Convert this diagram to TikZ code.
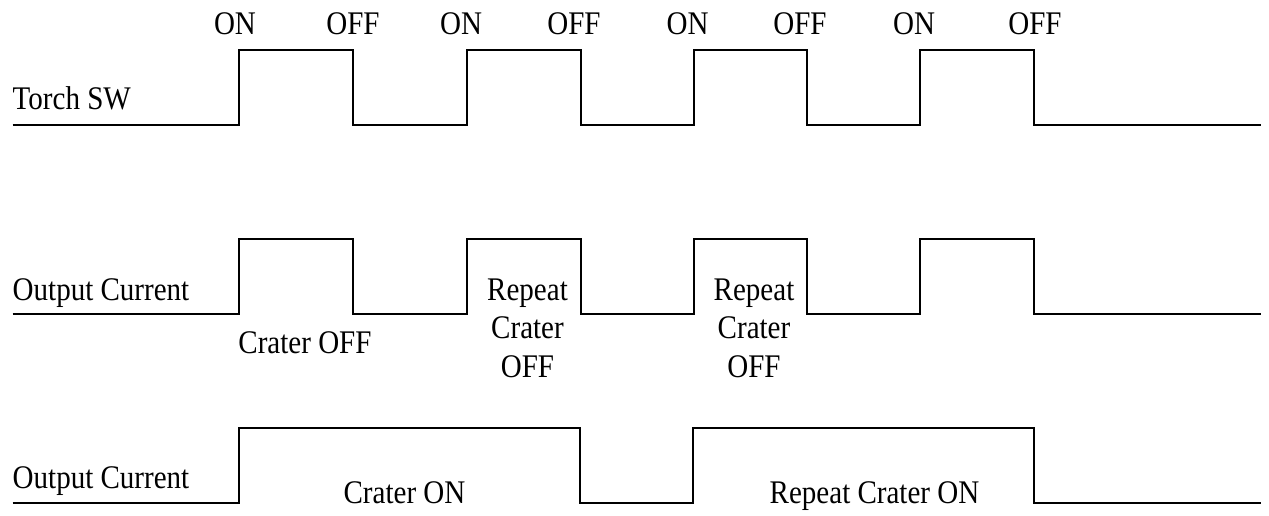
\documentclass[tikz,border=0pt]{standalone}
\usepackage{fontspec}
\setmainfont{Liberation Serif}[FakeStretch=0.88]
\begin{document}
\begin{tikzpicture}[x=1pt,y=-1pt,
  wave/.style={line width=2pt,line join=miter},
  lbl/.style={inner sep=0pt,outer sep=0pt,font=\fontsize{33}{38.5}\selectfont,anchor=base},
  lblw/.style={lbl,anchor=base west}]
\useasboundingbox (0,0) rectangle (1269,516);
% Torch SW
\draw[wave] (12.7,125.5) -| (239,50) -| (353,125.5) -| (467,50) -| (581,125.5)
  -| (694,50) -| (807,125.5) -| (920,50) -| (1034,125.5) -- (1261,125.5);
% Output current (crater off)
\draw[wave] (12.7,314) -| (239,239) -| (353,314) -| (467,239) -| (581,314)
  -| (694,239) -| (807,314) -| (920,239) -| (1034,314) -- (1261,314);
% Output current (crater on)
\draw[wave] (12.7,502.7) -| (239,427.7) -| (580,502.7) -| (693,427.7) -| (1034,502.7) -- (1261,502.7);
% top labels
\node[lbl] (on1) at (235,35) {ON};
\node[lbl] (off1) at (353,35) {OFF};
\node[lbl] (on2) at (461,35) {ON};
\node[lbl] (off2) at (574,35) {OFF};
\node[lbl] (on3) at (687.5,35) {ON};
\node[lbl] (off3) at (800,35) {OFF};
\node[lbl] (on4) at (914,35) {ON};
\node[lbl] (off4) at (1035,35) {OFF};
% row labels
\node[lblw] (torch) at (12.7,110) {Torch SW};
\node[lblw] (oc1) at (12.7,300) {Output Current};
\node[lblw] (oc2) at (12.7,488) {Output Current};
% annotations
\node[lbl] (coff) at (305,353) {Crater OFF};
\node[lbl] (r1a) at (527.5,300) {Repeat};
\node[lbl] (r1b) at (527.5,338.5) {Crater};
\node[lbl] (r1c) at (527.5,377) {OFF};
\node[lbl] (r2a) at (754,300) {Repeat};
\node[lbl] (r2b) at (754,338.5) {Crater};
\node[lbl] (r2c) at (754,377) {OFF};
\node[lbl] (con) at (404.5,503) {Crater ON};
\node[lbl] (rcon) at (874.5,503) {Repeat Crater ON};
\end{tikzpicture}
\end{document}
